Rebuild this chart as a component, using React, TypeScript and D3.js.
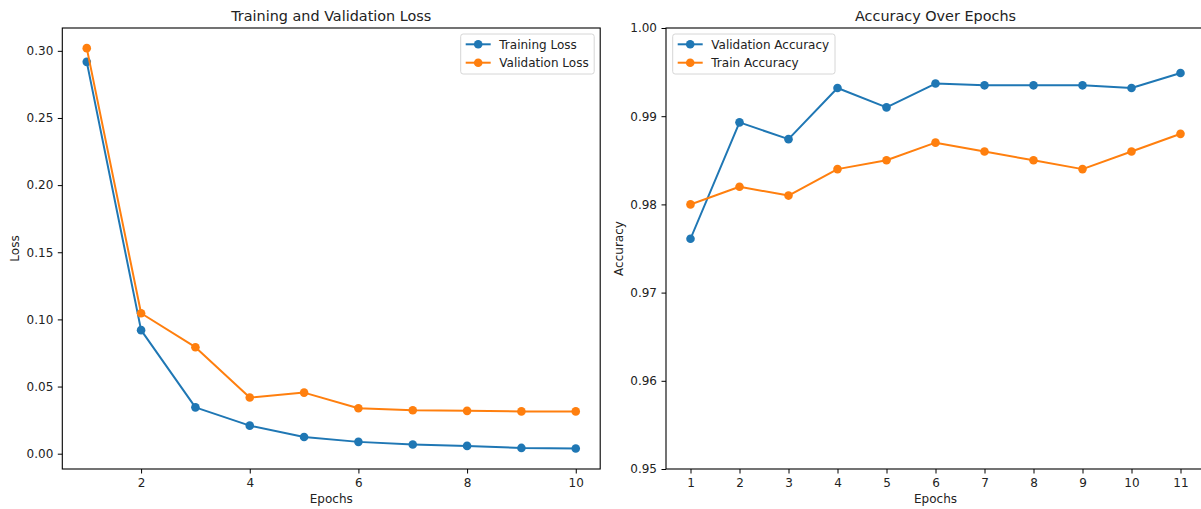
import { useEffect, useRef } from 'react';
import * as d3 from 'd3';

const lossEpochs = [1, 2, 3, 4, 5, 6, 7, 8, 9, 10];
const trainingLoss = [0.2918, 0.092, 0.0345, 0.0209, 0.0124, 0.0088, 0.0069, 0.0058, 0.0043, 0.0039];
const validationLoss = [0.302, 0.1046, 0.0793, 0.0418, 0.0455, 0.0338, 0.0323, 0.0319, 0.0315, 0.0315];

const accEpochs = [1, 2, 3, 4, 5, 6, 7, 8, 9, 10, 11];
const validationAcc = [0.9761, 0.9893, 0.9874, 0.9932, 0.991, 0.9937, 0.9935, 0.9935, 0.9935, 0.9932, 0.9949];
const trainAcc = [0.98, 0.982, 0.981, 0.984, 0.985, 0.987, 0.986, 0.985, 0.984, 0.986, 0.988];

const lossYTicks = [0, 0.05, 0.1, 0.15, 0.2, 0.25, 0.3];
const lossXTicks = [2, 4, 6, 8, 10];
const accYTicks = [0.95, 0.96, 0.97, 0.98, 0.99, 1.0];
const accXTicks = [1, 2, 3, 4, 5, 6, 7, 8, 9, 10, 11];

const BLUE = '#1f77b4';
const ORANGE = '#ff7f0e';
const FONT = 'DejaVu Sans, sans-serif';
const FS = 12;
const TITLE_FS = 14.4;

const W = 1201;
const H = 509;

type Series = { name: string; values: number[]; color: string };

type PanelOpts = {
  left: number;
  right: number;
  top: number;
  bottom: number;
  xDomain: [number, number];
  yDomain: [number, number];
  xTicks: number[];
  yTicks: number[];
  xs: number[];
  series: Series[];
  title: string;
  yLabel: string;
  legendX: number;
  legendW: number;
};

function drawPanel(svg: d3.Selection<SVGSVGElement, unknown, null, undefined>, o: PanelOpts) {
  const x = d3.scaleLinear().domain(o.xDomain).range([o.left, o.right]);
  const y = d3.scaleLinear().domain(o.yDomain).range([o.bottom, o.top]);
  const g = svg.append('g');

  // lines and markers
  const line = d3.line<number>()
    .x((d, i) => x(o.xs[i]))
    .y(d => y(d));

  o.series.forEach(s => {
    g.append('path')
      .datum(s.values)
      .attr('d', line)
      .attr('fill', 'none')
      .attr('stroke', s.color)
      .attr('stroke-width', 2)
      .attr('stroke-linejoin', 'round')
      .attr('stroke-linecap', 'square');
    g.selectAll(null)
      .data(s.values)
      .enter()
      .append('circle')
      .attr('cx', (d, i) => x(o.xs[i]))
      .attr('cy', d => y(d))
      .attr('r', 4.3)
      .attr('fill', s.color);
  });

  // spines
  g.append('rect')
    .attr('x', o.left)
    .attr('y', o.top)
    .attr('width', o.right - o.left)
    .attr('height', o.bottom - o.top)
    .attr('fill', 'none')
    .attr('stroke', '#000')
    .attr('stroke-width', 1.1);

  // x axis
  const xAxis = d3.axisBottom(x)
    .tickValues(o.xTicks)
    .tickSizeInner(4.5)
    .tickSizeOuter(0)
    .tickPadding(4.5)
    .tickFormat(d3.format('d'));
  const xa = g.append('g')
    .attr('transform', `translate(0, ${o.bottom})`)
    .call(xAxis);
  xa.select('.domain').remove();
  xa.selectAll('line').attr('stroke', '#000').attr('stroke-width', 1);
  xa.selectAll('text')
    .attr('font-family', FONT)
    .attr('font-size', FS)
    .attr('fill', '#222');

  // y axis
  const yAxis = d3.axisLeft(y)
    .tickValues(o.yTicks)
    .tickSizeInner(4.5)
    .tickSizeOuter(0)
    .tickPadding(4.5)
    .tickFormat(d3.format('.2f'));
  const ya = g.append('g')
    .attr('transform', `translate(${o.left}, 0)`)
    .call(yAxis);
  ya.select('.domain').remove();
  ya.selectAll('line').attr('stroke', '#000').attr('stroke-width', 1);
  ya.selectAll('text')
    .attr('font-family', FONT)
    .attr('font-size', FS)
    .attr('fill', '#222');

  // title
  const midX = (o.left + o.right) / 2;
  svg.append('text')
    .attr('x', midX)
    .attr('y', 21)
    .attr('text-anchor', 'middle')
    .attr('font-family', FONT)
    .attr('font-size', TITLE_FS)
    .attr('fill', '#222')
    .text(o.title);

  // x label
  svg.append('text')
    .attr('x', midX)
    .attr('y', 503)
    .attr('text-anchor', 'middle')
    .attr('font-family', FONT)
    .attr('font-size', FS)
    .attr('fill', '#222')
    .text('Epochs');

  // y label
  const yMid = (o.top + o.bottom) / 2;
  const lx = o.left - 43;
  svg.append('text')
    .attr('transform', `translate(${lx}, ${yMid}) rotate(-90)`)
    .attr('text-anchor', 'middle')
    .attr('font-family', FONT)
    .attr('font-size', FS)
    .attr('fill', '#222')
    .text(o.yLabel);

  // legend
  const lg = svg.append('g').attr('transform', `translate(${o.legendX}, 34)`);
  lg.append('rect')
    .attr('width', o.legendW)
    .attr('height', 40)
    .attr('rx', 2.5)
    .attr('fill', 'white')
    .attr('fill-opacity', 0.8)
    .attr('stroke', '#d6d6d6')
    .attr('stroke-width', 1);
  o.series.forEach((s, i) => {
    const cy = 10.3 + i * 18.4;
    lg.append('line')
      .attr('x1', 5)
      .attr('x2', 30)
      .attr('y1', cy)
      .attr('y2', cy)
      .attr('stroke', s.color)
      .attr('stroke-width', 2);
    lg.append('circle')
      .attr('cx', 17.5)
      .attr('cy', cy)
      .attr('r', 4.3)
      .attr('fill', s.color);
    lg.append('text')
      .attr('x', 38.6)
      .attr('y', cy)
      .attr('dy', '0.36em')
      .attr('font-family', FONT)
      .attr('font-size', FS)
      .attr('fill', '#222')
      .text(s.name);
  });
}

const App = () => {
  const svgRef = useRef<SVGSVGElement>(null);

  useEffect(() => {
    const svg = d3.select(svgRef.current as SVGSVGElement);
    svg.selectAll('*').remove();

    drawPanel(svg, {
      left: 62.3,
      right: 600.2,
      top: 28,
      bottom: 469,
      xDomain: [0.55, 10.45],
      yDomain: [-0.0114, 0.317],
      xTicks: lossXTicks,
      yTicks: lossYTicks,
      xs: lossEpochs,
      series: [
        { name: 'Training Loss', values: trainingLoss, color: BLUE },
        { name: 'Validation Loss', values: validationLoss, color: ORANGE },
      ],
      title: 'Training and Validation Loss',
      yLabel: 'Loss',
      legendX: 460.7,
      legendW: 133.5,
    });

    drawPanel(svg, {
      left: 666,
      right: 1205,
      top: 28,
      bottom: 469,
      xDomain: [0.5, 11.5],
      yDomain: [0.95, 1.0],
      xTicks: accXTicks,
      yTicks: accYTicks,
      xs: accEpochs,
      series: [
        { name: 'Validation Accuracy', values: validationAcc, color: BLUE },
        { name: 'Train Accuracy', values: trainAcc, color: ORANGE },
      ],
      title: 'Accuracy Over Epochs',
      yLabel: 'Accuracy',
      legendX: 672.7,
      legendW: 162.3,
    });
  }, []);

  return (
    <svg
      ref={svgRef}
      width={W}
      height={H}
      style={{ position: 'absolute', left: 0, top: 0, background: 'white', display: 'block' }}
    />
  );
};

export default App;
